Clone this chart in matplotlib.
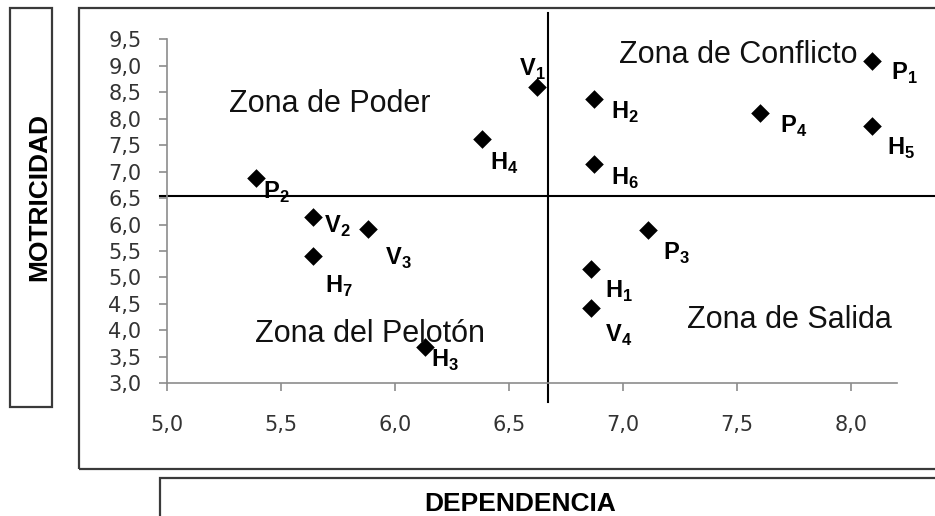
import matplotlib.pyplot as plt
from matplotlib.patches import Rectangle

# --- DATOS ---
etiquetas = ["P1", "H5", "P4", "H2", "H6", "V1", "H4", "P2", "V2", "V3", "H7", "H3", "P3", "H1", "V4"]
dependencia = [8.09, 8.09, 7.60, 6.87, 6.87, 6.62, 6.38, 5.39, 5.64, 5.88, 5.64, 6.13, 7.11, 6.86, 6.86]
motricidad = [9.09, 7.86, 8.11, 8.37, 7.14, 8.59, 7.61, 6.88, 6.15, 5.91, 5.41, 3.69, 5.90, 5.16, 4.43]

# lineas de corte de los cuadrantes
corte_x = 6.67
corte_y = 6.54

zonas = ["Zona de Poder", "Zona de Conflicto", "Zona del Pelotón", "Zona de Salida"]

x_ticks = [5.0, 5.5, 6.0, 6.5, 7.0, 7.5, 8.0]
y_ticks = [3.0, 3.5, 4.0, 4.5, 5.0, 5.5, 6.0, 6.5, 7.0, 7.5, 8.0, 8.5, 9.0, 9.5]

# --- estilo ---
plt.rcParams['mathtext.fontset'] = 'custom'
plt.rcParams['mathtext.rm'] = 'Liberation Sans'
plt.rcParams['mathtext.bf'] = 'Liberation Sans:bold'

# desplazamiento de cada etiqueta respecto a su punto (pixeles)
desplaz = {
    "P1": (19, -12), "H5": (15, -22), "P4": (20, -14), "H2": (17, -13),
    "H6": (17, -14), "V1": (-4, 18), "H4": (8, -24), "P2": (7, -14),
    "V2": (11, -10), "V3": (17, -29), "H7": (12, -31), "H3": (6, -14),
    "P3": (15, -24), "H1": (14, -22), "V4": (14, -28),
}

W, H = 935, 516
fig = plt.figure(figsize=(W / 100, H / 100), dpi=100)
ax = fig.add_axes([167.3 / W, (H - 383.3) / H, (896.7 - 167.3) / W, (383.3 - 39.3) / H])

ax.scatter(dependencia, motricidad, marker='D', s=90, color='black', zorder=3, linewidths=0)

for et, x, y in zip(etiquetas, dependencia, motricidad):
    dx, dy = desplaz[et]
    txt = r'$\mathbf{%s}_{\mathbf{%s}}$' % (et[0], et[1:])
    ax.annotate(txt, (x, y), xytext=(dx, dy), textcoords='offset pixels',
                ha='center' if et == "V1" else 'left', va='center', fontsize=17)

# cuadrantes
ax.plot([corte_x, corte_x], [2.65, 9.99], color='black', lw=1.5, clip_on=False, zorder=2)
ax.plot([4.97, 8.6], [corte_y, corte_y], color='black', lw=1.5, clip_on=False, zorder=2)

pos_zonas = [(5.714, 8.126), (7.507, 9.047), (5.889, 3.786), (7.728, 4.039)]
for z, (zx, zy) in zip(zonas, pos_zonas):
    ax.text(zx, zy, z, ha='center', va='baseline', fontsize=22, family='Liberation Sans', color='#111111')

ax.set_xlim(5.0, 8.2)
ax.set_ylim(3.0, 9.5)
ax.set_xticks(x_ticks)
ax.set_yticks(y_ticks)
ax.set_xticklabels([f"{v:.1f}".replace('.', ',') for v in x_ticks])
ax.set_yticklabels([f"{v:.1f}".replace('.', ',') for v in y_ticks])
for s in ['top', 'right']:
    ax.spines[s].set_visible(False)
for s in ['left', 'bottom']:
    ax.spines[s].set_color('#8c8c8c')
    ax.spines[s].set_linewidth(1.2)
ax.tick_params(axis='both', direction='out', length=5.5, width=1.2, color='#8c8c8c',
               labelsize=15, labelcolor='#333333')
ax.tick_params(axis='y', pad=13)
ax.tick_params(axis='x', pad=17)

# recuadros exteriores
caja = dict(fill=False, edgecolor='#3a3a3a', lw=1.6, transform=fig.transFigure, clip_on=False)
fig.patches.append(Rectangle((79.3 / W, (H - 469.3) / H), 1.0, (469.3 - 8.3) / H, **caja))
fig.patches.append(Rectangle((10 / W, (H - 406.7) / H), 41.7 / W, (406.7 - 8.3) / H, **caja))
fig.patches.append(Rectangle((160 / W, -0.1), 1.0, 0.1 + (H - 478.3) / H, **caja))

fig.text(39.7 / W, 1 - 196.7 / H, "MOTRICIDAD", rotation=90, ha='center', va='center',
         fontsize=19, fontweight='bold', family='Liberation Sans')
fig.text(520 / W, 0.0, "DEPENDENCIA", ha='center', va='bottom',
         fontsize=19, fontweight='bold', family='Liberation Sans')

fig.savefig("out.png", dpi=100)
